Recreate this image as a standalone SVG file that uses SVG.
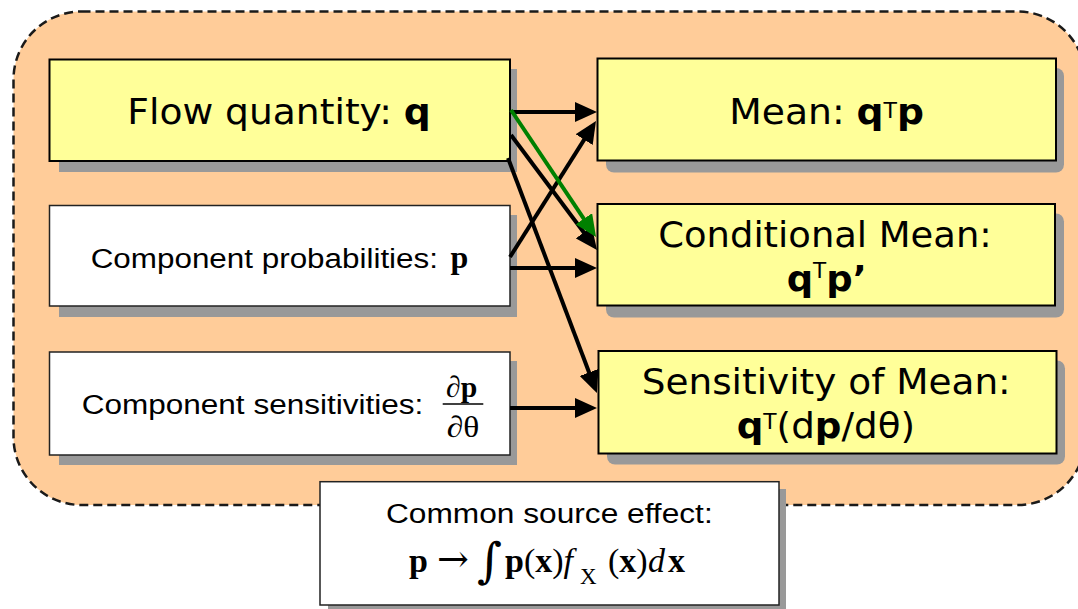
<svg xmlns="http://www.w3.org/2000/svg" width="1078" height="609" viewBox="0 0 1078 609">
<defs>
<style>
.bg{fill:#FFCC99;stroke:#1a1a1a;stroke-width:2.5;stroke-dasharray:9 5}
.shadow{fill:#999999}
.ybox{fill:#FFFF99;stroke:#000;stroke-width:2}
.wbox{fill:#FFFFFF;stroke:#222;stroke-width:1.5}
.vt{font-family:"DejaVu Sans",Verdana,sans-serif;font-size:36px;fill:#000}
.at{font-family:"Liberation Sans",Arial,sans-serif;font-size:27px;fill:#000}
.mt{font-family:"Liberation Serif","Times New Roman",serif;fill:#000}
.b{font-weight:bold}
.conn{stroke:#000;stroke-width:4;fill:none}
.green{stroke:#008000}
</style>
<marker id="ah" viewBox="0 -10 22 20" refX="2" refY="0" markerWidth="22" markerHeight="20" markerUnits="userSpaceOnUse" orient="auto">
<path d="M0,-10 L22,0 L0,10 z" fill="#000"/>
</marker>
<marker id="ahg" viewBox="0 -10 22 20" refX="2" refY="0" markerWidth="22" markerHeight="20" markerUnits="userSpaceOnUse" orient="auto">
<path d="M0,-10 L22,0 L0,10 z" fill="#008000"/>
</marker>
</defs>

<rect class="bg" x="13.5" y="11.5" width="1072" height="493.5" rx="68" ry="68"/>

<g id="flow">
<rect class="shadow" x="59" y="69" width="458" height="103"/>
<rect class="ybox" x="49.5" y="59.5" width="460.5" height="101.5"/>
<text class="vt" x="127.3" y="124" textLength="303.4" lengthAdjust="spacingAndGlyphs">Flow quantity: <tspan class="b">q</tspan></text>
</g>

<g id="probabilities">
<rect class="shadow" x="59" y="215" width="458" height="102"/>
<rect class="wbox" x="49.5" y="205.5" width="460.5" height="100.5"/>
<text class="at" x="90.7" y="267.7" textLength="347.3" lengthAdjust="spacingAndGlyphs">Component probabilities:</text>
<text class="mt b" x="450.5" y="267.7" font-size="32">p</text>
</g>

<g id="sensitivities">
<rect class="shadow" x="59" y="361" width="458" height="104"/>
<rect class="wbox" x="49.5" y="352" width="460.5" height="103"/>
<text class="at" x="81.7" y="414" textLength="341.6" lengthAdjust="spacingAndGlyphs">Component sensitivities:</text>
<text class="mt" x="446" y="397.3" font-size="30" textLength="31.3" lengthAdjust="spacingAndGlyphs">∂<tspan class="b">p</tspan></text>
<line x1="442.7" y1="404" x2="483.3" y2="404" stroke="#000" stroke-width="1.5"/>
<text class="mt" x="446.7" y="436.7" font-size="30" textLength="32.6" lengthAdjust="spacingAndGlyphs">∂θ</text>
</g>

<g id="mean">
<rect class="shadow" x="606" y="68" width="458" height="104.5" rx="8"/>
<rect class="ybox" x="597.5" y="58.5" width="458.5" height="102"/>
<text class="vt" x="729.3" y="124" textLength="194.7" lengthAdjust="spacingAndGlyphs">Mean: <tspan class="b">q</tspan><tspan font-size="21" dy="-5.7">T</tspan><tspan class="b" dy="5.7">p</tspan></text>
</g>

<g id="conditional">
<rect class="shadow" x="606" y="213.5" width="458" height="104" rx="8"/>
<rect class="ybox" x="597.5" y="204" width="457.5" height="101.5"/>
<text class="vt" x="658.3" y="246.7" textLength="333.4" lengthAdjust="spacingAndGlyphs">Conditional Mean:</text>
<text class="vt" x="786.7" y="291" textLength="80" lengthAdjust="spacingAndGlyphs"><tspan class="b">q</tspan><tspan font-size="21" dy="-12.7">T</tspan><tspan class="b" dy="12.7">p’</tspan></text>
</g>

<g id="sensmean">
<rect class="shadow" x="607" y="360.5" width="458" height="104" rx="8"/>
<rect class="ybox" x="598.5" y="351" width="458" height="102.5"/>
<text class="vt" x="641.7" y="394" textLength="369" lengthAdjust="spacingAndGlyphs">Sensitivity of Mean:</text>
<text class="vt" x="736.7" y="438.3" textLength="178.3" lengthAdjust="spacingAndGlyphs"><tspan class="b">q</tspan><tspan font-size="21" dy="-9">T</tspan><tspan dy="9">(d</tspan><tspan class="b">p</tspan>/dθ)</text>
</g>

<g id="common">
<rect class="shadow" x="328" y="489" width="458" height="125"/>
<rect class="wbox" x="320" y="481.7" width="459" height="123.3"/>
<text class="at" x="386" y="523.3" font-size="26" textLength="326.7" lengthAdjust="spacingAndGlyphs">Common source effect:</text>
<text class="mt" y="571.7" font-size="34"><tspan class="b" x="409">p</tspan><tspan x="437" font-family="'DejaVu Serif',serif" font-size="38">→</tspan><tspan x="477" y="577" font-family="'DejaVu Serif',serif" font-size="48">∫</tspan><tspan x="505" y="571.7"><tspan class="b">p</tspan>(<tspan class="b">x</tspan>)<tspan font-style="italic">f</tspan></tspan><tspan x="580" y="584" font-size="23">X</tspan><tspan x="608" y="571.7">(<tspan class="b">x</tspan>)</tspan><tspan x="648" font-style="italic">d</tspan><tspan x="668" class="b">x</tspan></text>
</g>

<g id="connectors">
<line class="conn" x1="510" y1="112" x2="577" y2="112" marker-end="url(#ah)"/>
<line class="conn" x1="508" y1="158" x2="589.8" y2="374.3" marker-end="url(#ah)"/>
<line class="conn" x1="511" y1="135" x2="585" y2="234" marker-end="url(#ah)"/>
<line class="conn" x1="510" y1="257" x2="585.3" y2="137.9" marker-end="url(#ah)"/>
<line class="conn" x1="510" y1="268" x2="577" y2="268" marker-end="url(#ah)"/>
<line class="conn" x1="510" y1="408" x2="577" y2="408" marker-end="url(#ah)"/>
<line class="conn green" x1="511" y1="110" x2="584.9" y2="220.4" marker-end="url(#ahg)"/>
</g>
</svg>
